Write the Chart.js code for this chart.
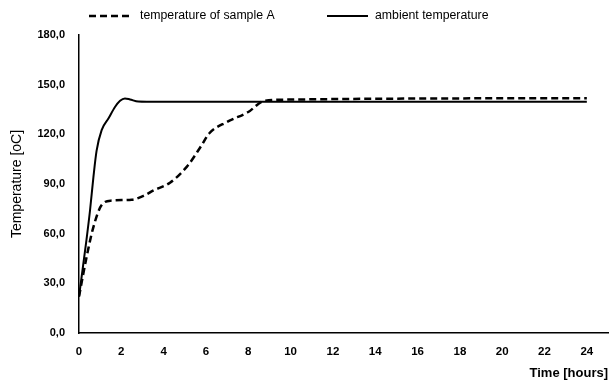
<!DOCTYPE html>
<html>
<head>
<meta charset="utf-8">
<script src="https://cdn.jsdelivr.net/npm/chart.js@4"></script>
<style>
  html, body { margin: 0; padding: 0; background: #fff; }
  #wrap { width: 612px; height: 383px; }
</style>
</head>
<body>
<div id="wrap"><canvas id="chart" width="612" height="383"></canvas></div>
<script>
// values
const sampleTime = [0, 0.36, 0.68, 1.07, 1.54, 2.49, 3.12, 3.5, 4.3, 5.1, 5.75, 6.15, 7, 8, 8.75, 10, 12, 14, 16, 18, 20, 22, 24];
const sampleTemp = [22, 46, 64, 77.3, 80, 80.5, 83.3, 86, 90.8, 100.5, 112.5, 120.5, 127.5, 133.5, 140.2, 141, 141.3, 141.5, 141.6, 141.7, 141.8, 141.8, 141.8];

const ambientTime = [0, 0.35, 0.52, 0.68, 0.83, 1.07, 1.39, 1.7, 1.94, 2.17, 2.41, 2.8, 3.2, 6, 12, 18, 24];
const ambientTemp = [22, 56, 74, 94, 110, 122.5, 129.5, 136.5, 140.3, 141.7, 141.1, 139.8, 139.7, 139.7, 139.7, 139.7, 139.7];

const seriesNames = ["temperature of sample A", "ambient temperature"];
const xTitle = "Time [hours]";
const yTitle = "Temperature [oC]";

const FONT = "'Liberation Sans', Arial, sans-serif";

function toPoints(xs, ys) {
  return xs.map((x, i) => ({ x: x, y: ys[i] }));
}

// legend drawn by hand so it sits where the original one does
const topLegend = {
  id: "topLegend",
  afterDraw(chart) {
    const ctx = chart.ctx;
    const items = [
      { ds: chart.data.datasets[0], x1: 89, x2: 132, tx: 140 },
      { ds: chart.data.datasets[1], x1: 327, x2: 368, tx: 375 }
    ];
    const y = 16;
    ctx.save();
    items.forEach(it => {
      ctx.beginPath();
      ctx.lineWidth = it.ds.borderWidth;
      ctx.strokeStyle = it.ds.borderColor;
      ctx.setLineDash(it.ds.borderDash || []);
      ctx.moveTo(it.x1, y);
      ctx.lineTo(it.x2, y);
      ctx.stroke();
      ctx.setLineDash([]);
      ctx.fillStyle = "#000";
      ctx.font = "12.3px " + FONT;
      ctx.textBaseline = "middle";
      ctx.fillText(it.ds.label, it.tx, y);
    });
    ctx.restore();
  }
};

new Chart(document.getElementById("chart"), {
  type: "line",
  data: {
    datasets: [
      {
        label: seriesNames[0],
        data: toPoints(sampleTime, sampleTemp),
        borderColor: "#000",
        borderWidth: 2.5,
        borderDash: [7, 4],
        pointRadius: 0,
        cubicInterpolationMode: "monotone",
        fill: false
      },
      {
        label: seriesNames[1],
        data: toPoints(ambientTime, ambientTemp),
        borderColor: "#000",
        borderWidth: 2,
        pointRadius: 0,
        cubicInterpolationMode: "monotone",
        fill: false
      }
    ]
  },
  options: {
    responsive: false,
    animation: false,
    layout: { padding: { top: 35, right: 4, left: 0, bottom: 0 } },
    plugins: { legend: { display: false }, tooltip: { enabled: false } },
    scales: {
      x: {
        type: "linear",
        min: 0,
        max: 25,
        grid: { display: false, drawTicks: false },
        border: { display: true, color: "#000", width: 1.5 },
        ticks: {
          stepSize: 2,
          includeBounds: false,
          color: "#000",
          padding: 12,
          font: { family: FONT, size: 11.5, weight: "bold" }
        },
        title: {
          display: true,
          text: xTitle,
          align: "end",
          color: "#000",
          padding: { top: 2, bottom: 2 },
          font: { family: FONT, size: 13, weight: "bold" }
        },
        afterFit(scale) { scale.height = 50; }
      },
      y: {
        min: 0,
        max: 180,
        grid: { display: false, drawTicks: false },
        border: { display: true, color: "#000", width: 1.5 },
        ticks: {
          stepSize: 30,
          color: "#000",
          padding: 14,
          font: { family: FONT, size: 11, weight: "bold" },
          callback: v => v.toFixed(1).replace(".", ",")
        },
        title: {
          display: true,
          text: yTitle,
          color: "#000",
          padding: { top: 9, bottom: 0 },
          font: { family: FONT, size: 14 }
        },
        afterFit(scale) { scale.width = 79; }
      }
    }
  },
  plugins: [topLegend]
});
</script>
</body>
</html>
